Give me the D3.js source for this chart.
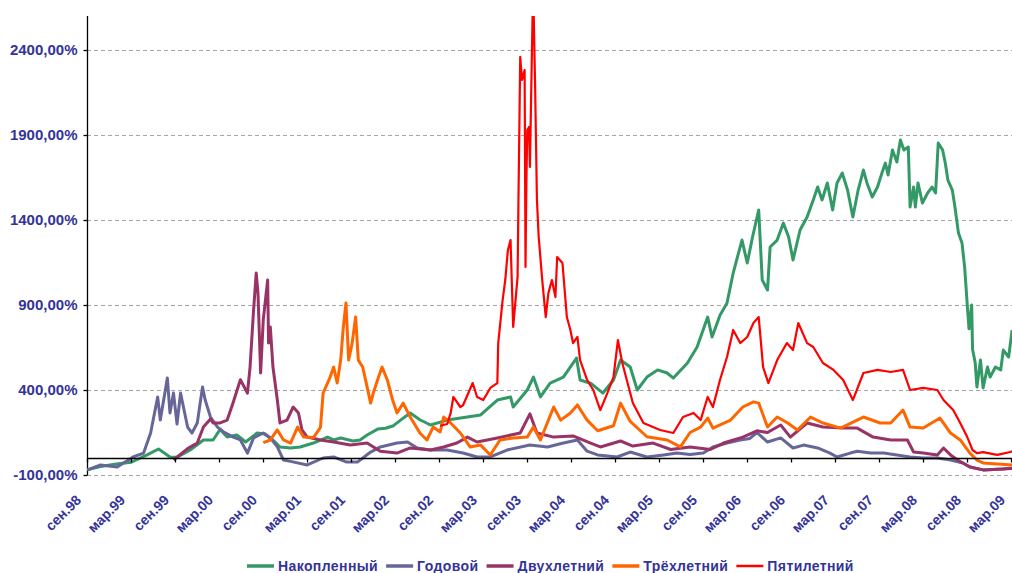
<!DOCTYPE html>
<html>
<head>
<meta charset="utf-8">
<script src="https://cdn.jsdelivr.net/npm/d3@7"></script>
<style>
    body { margin: 0; background: #fff; }
    svg { display: block; font-family: "Liberation Sans", Arial, sans-serif; }
</style>
</head>
<body>
<div id="chart"></div>
<script>

// series as [year, return %]
let nakoplenny = [
    [1998.67,-70],[1998.82,-50],[1999.00,-35],[1999.17,-25],[1999.35,18],[1999.48,53],[1999.61,6],[1999.69,5],
    [1999.84,47],[1999.99,106],[2000.10,106],[2000.18,168],[2000.26,123],[2000.37,135],[2000.47,94],[2000.60,147],
    [2000.69,141],[2000.78,106],[2000.86,65],[2000.98,59],[2001.09,65],[2001.24,88],[2001.40,123],[2001.47,106],
    [2001.55,118],[2001.69,100],[2001.77,106],[2001.85,135],[2001.97,170],[2002.06,175],[2002.15,190],[2002.23,223],
    [2002.34,265],[2002.45,225],[2002.57,194],[2002.76,223],[2002.97,240],[2003.14,253],[2003.33,341],[2003.48,359],
    [2003.51,300],[2003.67,400],[2003.74,476],[2003.82,359],[2003.93,441],[2004.08,476],[2004.23,588],[2004.27,459],
    [2004.39,440],[2004.53,382],[2004.65,459],[2004.73,576],[2004.84,535],[2004.92,400],[2005.03,476],[2005.15,518],
    [2005.26,500],[2005.33,470],[2005.49,559],[2005.60,653],[2005.72,829],[2005.77,712],[2005.86,840],[2005.94,912],
    [2006.01,1088],[2006.11,1282],[2006.17,1147],[2006.23,1300],[2006.30,1459],[2006.34,1047],[2006.40,988],[2006.43,1241],
    [2006.51,1282],[2006.58,1382],[2006.64,1300],[2006.69,1165],[2006.77,1341],[2006.85,1418],[2006.92,1518],[2006.97,1594],
    [2007.02,1518],[2007.08,1618],[2007.14,1459],[2007.19,1618],[2007.25,1676],[2007.31,1576],[2007.37,1418],[2007.43,1576],
    [2007.49,1694],[2007.53,1618],[2007.59,1535],[2007.65,1594],[2007.70,1676],[2007.74,1735],[2007.77,1665],[2007.82,1812],
    [2007.87,1741],[2007.91,1871],[2007.95,1812],[2008.00,1829],[2008.02,1476],[2008.06,1594],[2008.08,1476],[2008.11,1618],
    [2008.16,1500],[2008.22,1559],[2008.27,1594],[2008.31,1559],[2008.34,1853],[2008.39,1812],[2008.42,1735],[2008.45,1635],
    [2008.50,1576],[2008.53,1476],[2008.57,1323],[2008.61,1265],[2008.64,1124],[2008.67,900],[2008.69,760],[2008.72,900],
    [2008.73,640],[2008.76,560],[2008.78,418],[2008.82,576],[2008.85,412],[2008.90,535],[2008.93,476],[2008.99,535],
    [2009.05,518],[2009.08,635],[2009.14,594],[2009.18,753]
];

let godovoy = [
    [1998.67,-70],[1998.82,-41],[1999.01,-53],[1999.19,6],[1999.31,29],[1999.39,147],[1999.47,359],[1999.50,223],
    [1999.58,470],[1999.61,265],[1999.65,382],[1999.69,200],[1999.73,382],[1999.81,182],[1999.86,147],[1999.92,206],
    [1999.98,418],[2000.01,341],[2000.07,241],[2000.15,182],[2000.22,153],[2000.33,123],[2000.41,106],[2000.49,29],
    [2000.56,118],[2000.67,147],[2000.75,118],[2000.83,65],[2000.90,-12],[2000.98,-20],[2001.17,-41],[2001.35,0],
    [2001.47,6],[2001.62,-24],[2001.74,-24],[2001.89,35],[2002.00,65],[2002.19,88],[2002.31,94],[2002.42,59],
    [2002.57,47],[2002.76,47],[2002.94,29],[2003.10,6],[2003.25,6],[2003.44,47],[2003.70,76],[2003.90,65],
    [2004.08,88],[2004.24,106],[2004.35,40],[2004.47,18],[2004.69,6],[2004.84,35],[2005.03,6],[2005.22,18],
    [2005.37,29],[2005.52,20],[2005.67,29],[2005.78,65],[2005.94,88],[2006.09,106],[2006.20,115],[2006.28,150],
    [2006.40,94],[2006.55,118],[2006.69,59],[2006.81,76],[2006.97,59],[2007.11,29],[2007.19,6],[2007.34,29],
    [2007.42,40],[2007.57,29],[2007.72,29],[2007.87,18],[2008.02,6],[2008.17,0],[2008.33,0],[2008.48,-12],
    [2008.62,-29],[2008.70,-53],[2008.85,-70],[2009.08,-65],[2009.18,-59]
];

let dvukhletny = [
    [1999.65,-12],[1999.81,55],[1999.92,88],[1999.99,182],[2000.07,230],[2000.10,206],[2000.18,206],[2000.26,223],
    [2000.33,330],[2000.41,460],[2000.49,382],[2000.52,535],[2000.56,871],[2000.59,1088],[2000.61,970],[2000.64,500],
    [2000.67,812],[2000.72,1047],[2000.73,676],[2000.75,771],[2000.78,535],[2000.83,341],[2000.86,206],[2000.94,223],
    [2001.01,300],[2001.07,265],[2001.11,165],[2001.17,123],[2001.32,106],[2001.47,94],[2001.66,76],[2001.85,88],
    [2002.00,40],[2002.19,29],[2002.34,59],[2002.57,47],[2002.72,65],[2002.87,88],[2002.99,123],[2003.10,94],
    [2003.33,118],[2003.59,147],[2003.70,260],[2003.78,147],[2003.97,123],[2004.19,130],[2004.39,88],[2004.50,65],
    [2004.73,100],[2004.87,70],[2005.10,88],[2005.30,50],[2005.52,65],[2005.75,50],[2005.90,88],[2006.12,123],
    [2006.28,160],[2006.40,150],[2006.55,194],[2006.66,123],[2006.85,206],[2007.03,182],[2007.26,176],[2007.42,176],
    [2007.60,123],[2007.80,106],[2007.99,106],[2008.06,35],[2008.17,29],[2008.33,18],[2008.40,59],[2008.48,18],
    [2008.56,-12],[2008.70,-53],[2008.85,-70],[2009.18,-62]
];

let trekhletny = [
    [2000.67,90],[2000.75,106],[2000.83,165],[2000.90,106],[2000.98,88],[2001.06,182],[2001.13,123],[2001.24,120],
    [2001.32,180],[2001.35,382],[2001.43,476],[2001.47,535],[2001.51,441],[2001.55,576],[2001.58,771],[2001.61,912],
    [2001.64,576],[2001.68,676],[2001.72,829],[2001.75,576],[2001.80,535],[2001.85,418],[2001.89,323],[2001.92,382],
    [2001.98,476],[2002.02,535],[2002.08,459],[2002.14,341],[2002.19,265],[2002.26,323],[2002.34,241],[2002.45,147],
    [2002.53,106],[2002.60,182],[2002.68,153],[2002.72,241],[2002.80,206],[2002.91,147],[2003.02,65],[2003.14,76],
    [2003.25,18],[2003.36,106],[2003.51,118],[2003.67,123],[2003.74,182],[2003.82,106],[2003.97,300],[2004.05,223],
    [2004.16,265],[2004.24,312],[2004.35,223],[2004.47,160],[2004.65,190],[2004.73,323],[2004.84,215],[2005.03,125],
    [2005.26,106],[2005.41,65],[2005.52,150],[2005.64,182],[2005.72,235],[2005.78,176],[2005.98,223],[2006.12,300],
    [2006.24,330],[2006.30,323],[2006.40,182],[2006.51,241],[2006.63,206],[2006.74,165],[2006.89,241],[2007.03,206],
    [2007.23,176],[2007.49,241],[2007.68,206],[2007.80,206],[2007.94,282],[2008.02,182],[2008.17,176],[2008.36,235],
    [2008.48,147],[2008.59,106],[2008.70,29],[2008.78,-12],[2008.85,-29],[2009.18,-41]
];

let pyatiletny = [
    [2002.68,190],[2002.76,200],[2002.80,265],[2002.83,359],[2002.91,300],[2002.94,310],[2003.05,441],[2003.10,359],
    [2003.17,341],[2003.25,412],[2003.33,441],[2003.34,676],[2003.39,929],[2003.42,1047],[2003.45,1224],[2003.48,1282],
    [2003.51,771],[2003.56,1065],[2003.57,1518],[2003.59,2359],[2003.61,2224],[2003.64,2282],[2003.65,1124],[2003.66,1618],
    [2003.67,1929],[2003.69,1947],[2003.70,1712],[2003.73,2594],[2003.74,2700],[2003.76,2165],[2003.78,1518],[2003.80,1300],
    [2003.84,1047],[2003.88,829],[2003.91,970],[2003.95,1047],[2003.99,947],[2004.01,1182],[2004.07,1147],[2004.12,829],
    [2004.16,753],[2004.19,676],[2004.24,712],[2004.27,576],[2004.35,459],[2004.42,400],[2004.50,282],[2004.58,382],
    [2004.65,476],[2004.70,694],[2004.75,559],[2004.81,441],[2004.87,323],[2004.99,206],[2005.18,165],[2005.33,147],
    [2005.44,241],[2005.56,265],[2005.64,223],[2005.72,359],[2005.78,300],[2005.86,459],[2005.94,594],[2006.01,753],
    [2006.09,676],[2006.17,712],[2006.24,794],[2006.30,829],[2006.35,535],[2006.41,441],[2006.51,576],[2006.62,676],
    [2006.69,635],[2006.75,794],[2006.85,676],[2006.92,653],[2007.03,559],[2007.15,518],[2007.26,459],[2007.37,341],
    [2007.49,500],[2007.65,518],[2007.80,506],[2007.94,518],[2008.02,400],[2008.17,412],[2008.33,400],[2008.40,341],
    [2008.51,282],[2008.59,206],[2008.67,123],[2008.73,47],[2008.78,29],[2008.85,35],[2009.01,18],[2009.16,35],
    [2009.18,40]
];

let seriesNames = ["Накопленный", "Годовой", "Двухлетний", "Трёхлетний", "Пятилетний"];
let seriesColors = ["#339966", "#666699", "#993366", "#ff6600", "#ff0000"];
let seriesData = [nakoplenny, godovoy, dvukhletny, trekhletny, pyatiletny];

let yTicks = [-100, 400, 900, 1400, 1900, 2400];

// first of september / march
let xTicks = [1998.667, 1999.167, 1999.667, 2000.167, 2000.667, 2001.167, 2001.667, 2002.167, 2002.667, 2003.167, 2003.667,
              2004.167, 2004.667, 2005.167, 2005.667, 2006.167, 2006.667, 2007.167, 2007.667, 2008.167, 2008.667, 2009.167];
let xTickLabels = ["сен.98","мар.99","сен.99","мар.00","сен.00","мар.01","сен.01","мар.02","сен.02","мар.03","сен.03",
                   "мар.04","сен.04","мар.05","сен.05","мар.06","сен.06","мар.07","сен.07","мар.08","сен.08","мар.09"];

let width = 1012, height = 573;
let plot = {left: 87, right: 1012, top: 16, bottom: 475};
let labelColor = "#333399";

let svg = d3.select("#chart").append("svg")
    .attr("width", width)
    .attr("height", height);

let xScale = d3.scaleLinear()
    .domain([xTicks[0], xTicks[xTicks.length - 1]])
    .range([plot.left, 1011]);

let yScale = d3.scaleLinear()
    .domain([-100, 2600])
    .range([plot.bottom, plot.top]);

//Gridlines
svg.append("g")
    .selectAll("line")
    .data(yTicks)
    .enter().append("line")
    .attr("x1", plot.left)
    .attr("x2", plot.right)
    .attr("y1", (d) => yScale(d) + 0.5)
    .attr("y2", (d) => yScale(d) + 0.5)
    .attr("stroke", "#a6a6a6")
    .attr("stroke-width", 1)
    .attr("stroke-dasharray", "4,3");

svg.append("defs").append("clipPath")
    .attr("id", "plotClip")
    .append("rect")
    .attr("x", plot.left)
    .attr("y", plot.top)
    .attr("width", plot.right - plot.left)
    .attr("height", plot.bottom - plot.top);

//Add the y Axis
let yAxis = svg.append("g")
    .attr("transform", "translate(" + (plot.left + 0.5) + ",0)")
    .call(d3.axisLeft(yScale)
        .tickValues(yTicks)
        .tickSize(4)
        .tickSizeOuter(0)
        .tickPadding(6)
        .tickFormat((d) => d.toFixed(2).replace(".", ",") + "%"));

yAxis.select(".domain").attr("stroke", "#000").attr("stroke-width", 1.3)
    .attr("d", "M0," + plot.top + "V" + plot.bottom);
yAxis.selectAll(".tick line").attr("stroke", "#000").attr("stroke-width", 1.3);
yAxis.selectAll(".tick text")
    .attr("fill", labelColor)
    .attr("font-size", "15px")
    .attr("font-weight", "bold");

let line = d3.line()
    .x((d) => xScale(d[0]))
    .y((d) => yScale(d[1]));

//Draw the series
svg.append("g")
    .attr("clip-path", "url(#plotClip)")
    .selectAll("path")
    .data(seriesData)
    .enter().append("path")
    .attr("d", (d) => line(d))
    .attr("fill", "none")
    .attr("stroke", (d, i) => seriesColors[i])
    .attr("stroke-width", (d, i) => i == 4 ? 2.2 : 3)
    .attr("stroke-linejoin", "round");

//Add the x Axis (crosses at zero)
let xAxis = svg.append("g")
    .attr("transform", "translate(0," + (yScale(0) + 0.5) + ")")
    .call(d3.axisBottom(xScale)
        .tickValues(xTicks)
        .tickSize(4)
        .tickSizeOuter(0)
        .tickFormat(""));

xAxis.select(".domain").attr("stroke", "#000").attr("stroke-width", 1.3)
    .attr("d", "M" + plot.left + ",0H" + plot.right);
xAxis.selectAll(".tick line").attr("stroke", "#000").attr("stroke-width", 1.3);

svg.append("g")
    .selectAll("text")
    .data(xTicks)
    .enter().append("text")
    .attr("transform", (d) => "translate(" + (xScale(d) - 5) + ",501) rotate(-45)")
    .attr("text-anchor", "end")
    .attr("fill", labelColor)
    .attr("font-size", "14px")
    .attr("font-weight", "bold")
    .text((d, i) => xTickLabels[i]);

//Legend
let legend = svg.append("g");
let lx = 247;
seriesNames.forEach((name, i) => {
    legend.append("line")
        .attr("x1", lx)
        .attr("x2", lx + 27)
        .attr("y1", 566)
        .attr("y2", 566)
        .attr("stroke", seriesColors[i])
        .attr("stroke-width", i == 4 ? 2.5 : 3.5);

    let t = legend.append("text")
        .attr("x", lx + 31)
        .attr("y", 571)
        .attr("fill", labelColor)
        .attr("font-size", "14px")
        .attr("font-weight", "bold")
        .attr("letter-spacing", "0.4px")
        .text(name);

    lx = lx + 31 + t.node().getComputedTextLength() + 8;
});

</script>
</body>
</html>
